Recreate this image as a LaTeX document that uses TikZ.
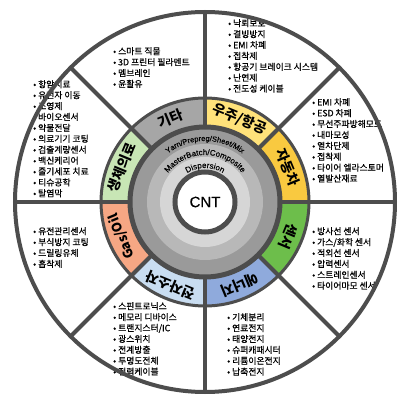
\documentclass[tikz,border=0pt]{standalone}
\usepackage{fontspec}
\setmainfont{Noto Sans CJK KR}
\newfontfamily\listfont{Noto Sans CJK KR}[FakeBold=0.6]
\newfontfamily\latinfont{Liberation Sans}[FakeBold=0.3]
\usetikzlibrary{decorations.text}
\definecolor{linegray}{HTML}{4D4D4D}
\definecolor{cEtc}{HTML}{A6A6A6}
\definecolor{cAero}{HTML}{FFE27A}
\definecolor{cAuto}{HTML}{F9C940}
\definecolor{cSensor}{HTML}{6DBE4B}
\definecolor{cEnergy}{HTML}{8FAADC}
\definecolor{cElec}{HTML}{C9DDF1}
\definecolor{cGas}{HTML}{F6A784}
\definecolor{cBio}{HTML}{C8E6B5}
\definecolor{bandA}{HTML}{9A9A9A}
\definecolor{bandB}{HTML}{B8B8B8}
\definecolor{bandC}{HTML}{D6D6D6}
\begin{document}
\begin{tikzpicture}[x=1pt,y=1pt,
  divider/.style={draw=linegray, line width=4pt},
  ringline/.style={draw=linegray, line width=4pt},
  listtext/.style={anchor=north west, inner sep=0pt, align=left, text=black,
    font=\listfont\fontsize{8.8}{10.9}\selectfont},
  seglabel/.style={font=\bfseries\fontsize{14}{14}\selectfont, inner sep=0pt, text=black},
  arctext/.style={decorate, decoration={text along path, text align=center}}
]
\useasboundingbox (-205pt,-213pt) rectangle (205pt,202pt);
\fill[white] (-205pt,-213pt) rectangle (205pt,202pt);

% list texts (drawn first, lines go over them)
\node[listtext] (tEtc) at (-92pt,155pt) {• 스마트 직물\\• 3D 프린터 필라멘트\\• 멤브레인\\• 윤활유};
\node[listtext] (tAero) at (23pt,183pt) {• 낙뢰보호\\• 결빙방지\\• EMI 차폐\\• 접착제\\• 항공기 브레이크 시스템\\• 난연제\\• 전도성 케이블};
\node[listtext] (tAuto) at (107pt,104pt) {• EMI 차폐\\• ESD 차폐\\• 무선주파방해모드\\• 내마모성\\• 열차단제\\• 접착제\\• 타이어 엘라스토머\\• 열발산재료};
\node[listtext] (tSensor) at (107pt,-25pt) {• 방사선 센서\\• 가스/화학 센서\\• 적외선 센서\\• 압력센서\\• 스트레인센서\\• 타이어마모 센서};
\node[listtext] (tEnergy) at (22pt,-111pt) {• 기체분리\\• 연료전지\\• 태양전지\\• 슈퍼캐패시터\\• 리튬이온전지\\• 납축전지};
\node[listtext] (tElec) at (-92pt,-100pt) {• 스핀트로닉스\\• 메모리 디바이스\\• 트랜지스터/IC\\• 광스위치\\• 전계방출\\• 투명도전체\\• 전력케이블};
\node[listtext] (tGas) at (-172pt,-25pt) {• 유전관리센서\\• 부식방지 코팅\\• 드릴링유체\\• 흡착제};
\node[listtext] (tBio) at (-172pt,122pt) {• 항암치료\\• 유전자 이동\\• 조영제\\• 바이오센서\\• 약물전달\\• 의료기기 코팅\\• 검출계량센서\\• 백신케리어\\• 줄기세포 치료\\• 티슈공학\\• 탈염막};

% coloured ring sectors
\foreach \a/\c in {90/cEtc,45/cAero,0/cAuto,-45/cSensor,-90/cEnergy,-135/cElec,180/cGas,135/cBio}{
  \fill[\c] (\a:104pt) arc[start angle=\a, delta angle=45, radius=104pt]
    -- ({\a+45}:76pt) arc[start angle={\a+45}, delta angle=-45, radius=76pt] -- cycle;
}

% inner grey bands
\fill[bandA] (0,0) circle[radius=74pt];
\fill[bandB] (0,0) circle[radius=58pt];
\fill[bandC] (0,0) circle[radius=45pt];
\draw[linegray, line width=5pt, fill=white] (0,0) circle[radius=30pt];

% ring borders and dividers
\draw[ringline, line width=5pt] (0,0) circle[radius=75pt];
\draw[ringline, line width=3pt] (0,0) circle[radius=104pt];
\draw[ringline] (0,0) circle[radius=190pt];
\foreach \a in {0,45,...,315}{
  \draw[divider] (\a:75pt) -- (\a:190pt);
}

% segment labels
\node[seglabel, rotate=22.5]   (lEtc)    at (112.5:90pt) {기타};
\node[seglabel, rotate=-22.5]  (lAero)   at (67.5:90pt)  {우주/항공};
\node[seglabel, rotate=-67.5]  (lAuto)   at (22.5:90pt)  {자동차};
\node[seglabel, rotate=-112.5] (lSensor) at (-22.5:90pt) {센서};
\node[seglabel, rotate=-157.5] (lEnergy) at (-67.5:90pt) {에너지};
\node[seglabel, rotate=157.5]  (lElec)   at (-112.5:90pt){전자소자};
\node[seglabel, rotate=112.5]  (lGas)    at (-157.5:90pt){\fontsize{13}{13}\selectfont Gas/Oil};
\node[seglabel, rotate=67.5]   (lBio)    at (157.5:90pt) {생체의료};

% curved band texts
\path[arctext, decoration={text={|\latinfont\fontsize{7.5}{7.5}\selectfont|Yarn/Prepreg/Sheet/Mix}}]
  (175:61pt) arc[start angle=175, end angle=5, radius=61pt];
\path[arctext, decoration={text={|\latinfont\fontsize{8}{8}\selectfont|MasterBatch/Composite}}]
  (178:47pt) arc[start angle=178, end angle=2, radius=47pt];
\path[arctext, decoration={text={|\latinfont\fontsize{8}{8}\selectfont|Dispersion}}]
  (170:34pt) arc[start angle=170, end angle=10, radius=34pt];

\node[font=\latinfont\fontsize{15}{15}\selectfont, inner sep=0pt] (cnt) at (0,0) {CNT};
\end{tikzpicture}
\end{document}
